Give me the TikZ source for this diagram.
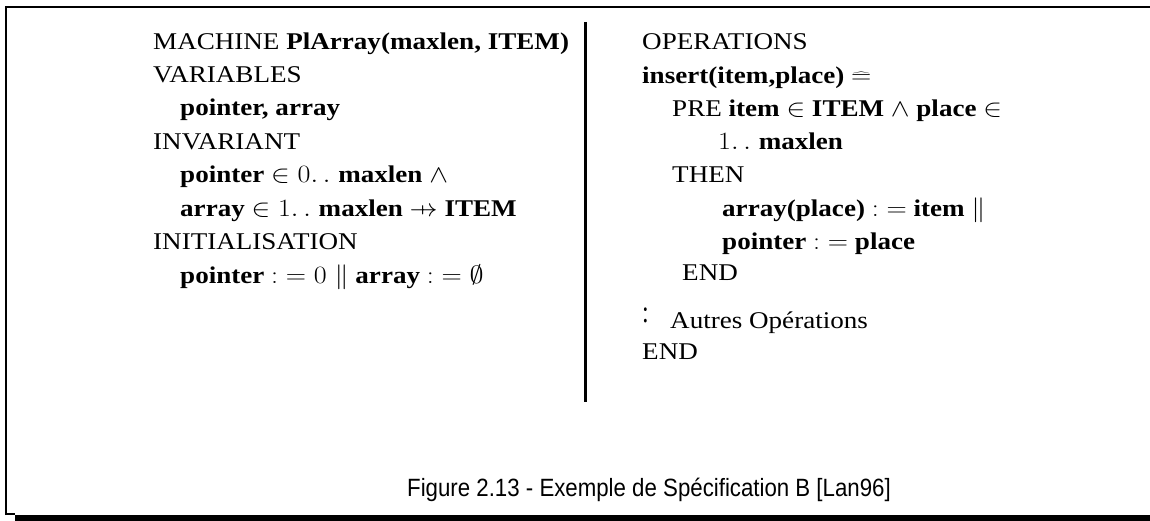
\documentclass[tikz,border=0pt]{standalone}
\usepackage{fontspec}
\setmainfont{Liberation Serif}
\newfontfamily\capfont{Liberation Sans}
\newcommand{\pfunarrow}{\mathrel{\ooalign{\hfil$\mapstochar\mkern4mu$\hfil\cr$\rightarrow$\cr}}}
\newcommand{\asg}{\mathrel{:}\;\mathrel{=}}
\newcommand{\rng}{.\,.\;}
\newcommand{\T}[1]{\scalebox{1.128}[1]{#1}}
\newcommand{\C}[1]{\scalebox{0.89}[1]{#1}}
\tikzset{
  ln/.style={anchor=base west, inner sep=0pt, font=\fontsize{24}{33}\selectfont},
  capt/.style={anchor=base west, inner sep=0pt, font=\capfont\fontsize{25}{30}\selectfont},
}
\begin{document}
\begin{tikzpicture}[x=1pt,y=-1pt]
\useasboundingbox (0,0) rectangle (1150,521);
% frame
\draw[line width=2pt] (6,515) -- (6,7) -- (1150,7);
\draw[line width=1.7pt] (5,514.2) -- (15,514.2);
\fill (15,514.5) rectangle (1150,521);
% divider
\draw[line width=3pt] (585.5,22) -- (585.5,402);
% left column
\node[ln] (l1) at (153,50) {\T{MACHINE \textbf{PlArray(maxlen, ITEM)}}};
\node[ln] (l2) at (153,83) {\T{VARIABLES}};
\node[ln] (l3) at (180,116) {\T{\textbf{pointer, array}}};
\node[ln] (l4) at (153,150) {\T{INVARIANT}};
\node[ln] (l5) at (180,183) {\T{\textbf{pointer} $\in 0\rng$\textbf{maxlen} $\wedge$}};
\node[ln] (l6) at (180,217) {\T{\textbf{array} $\in 1\rng$\textbf{maxlen} $\pfunarrow$ \textbf{ITEM}}};
\node[ln] (l7) at (153,250) {\T{INITIALISATION}};
\node[ln] (l8) at (180,283) {\T{\textbf{pointer} $\asg 0 \parallel$ \textbf{array} $\asg \emptyset$}};
% right column
\node[ln] (r1) at (642,50) {\T{OPERATIONS}};
\node[ln] (r2) at (642,84) {\T{\textbf{insert(item,place)} $\mathrel{\smash{\widehat{=}}}$}};
\node[ln] (r3) at (672,117) {\T{PRE \textbf{item} $\in$ \textbf{ITEM} $\wedge$ \textbf{place} $\in$}};
\node[ln] (r4) at (718,150) {\T{$1\rng$\textbf{maxlen}}};
\node[ln] (r5) at (672,183) {\T{THEN}};
\node[ln] (r6) at (722,217) {\T{\textbf{array(place)} $\asg$ \textbf{item} $\parallel$}};
\node[ln] (r7) at (722,250) {\T{\textbf{pointer} $\asg$ \textbf{place}}};
\node[ln] (r8) at (682,280) {\T{END}};
\node[ln] (r9) at (642,328) {\raisebox{6pt}{\scalebox{1}[1.3]{:}}};
\node[ln] (r10) at (670,328) {\T{Autres Opérations}};
\node[ln] (r11) at (642,359) {\T{END}};
% caption
\node[capt] (cap) at (407,496) {\C{Figure 2.13 - Exemple de Spécification B [Lan96]}};
\end{tikzpicture}
\end{document}
